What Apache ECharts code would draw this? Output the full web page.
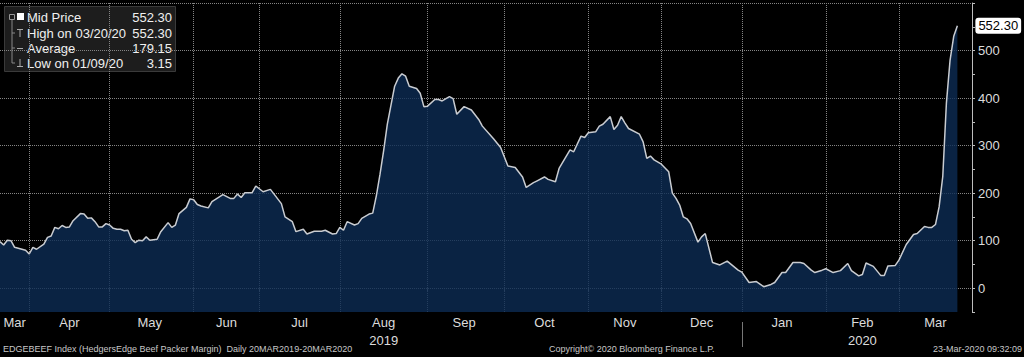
<!DOCTYPE html>
<html><head><meta charset="utf-8">
<script src="https://cdn.jsdelivr.net/npm/echarts@6/dist/echarts.min.js"></script>
<style>html,body{margin:0;padding:0;background:#000;}#c{width:1024px;height:357px;}</style>
</head><body><div id="c"></div>
<script>
// ---- data ----
const monthNames = ['Mar','Apr','May','Jun','Jul','Aug','Sep','Oct','Nov','Dec','Jan','Feb','Mar'];
const monthYears = [2019,2019,2019,2019,2019,2019,2019,2019,2019,2019,2020,2020,2020];
const monthSessions = [8,22,23,18,22,24,21,23,20,22,23,20,21];
const yearLabelMonths = [5, 11]; // year printed under Aug 2019 and Feb 2020
const yMin = -50, yMax = 600, yStep = 50, yGridStep = 100, yLabelMax = 500;
const legendLabels = ['Mid Price','High on 03/20/20','Average','Low on 01/09/20'];
const legendValues = ['552.30','552.30','179.15','3.15'];
const lastValue = 552.30;
const footerLeft = 'EDGEBEEF Index (HedgersEdge Beef Packer Margin)  Daily 20MAR2019-20MAR2020';
const footerMid = 'Copyright\u00a9 2020 Bloomberg Finance L.P.';
const footerRight = '23-Mar-2020 09:32:09';
// [session index, value]
const midPrice = [[0,98],[1,91],[2,101],[3,100],[4,86],[5,84],[6,82],[7,80],[8,72],[9,86],[10,82],[12,93],[13,107],[14,110],[15,128],[16,125],[17,132],[18,128],[19,129],[20,142],[22,157],[23,156],[24,147],[25,148],[26,140],[27,129],[28,129],[29,136],[30,133],[31,126],[32,124],[33,124],[34,121],[35,122],[36,103],[37,96],[38,101],[39,100],[40,108],[41,101],[43,103],[44,119],[46,138],[47,128],[48,133],[49,157],[51,170],[52,188],[53,186],[54,176],[55,173],[57,169],[58,182],[61,197],[63,189],[64,189],[65,198],[66,191],[67,201],[69,201],[70,215],[72,203],[74,208],[75,198],[77,178],[78,150],[80,140],[81,119],[83,124],[84,114],[86,120],[88,120],[89,122],[91,114],[92,115],[93,128],[94,122],[95,140],[97,133],[98,136],[99,147],[101,156],[102,158],[103,195],[104,240],[105,290],[106,345],[107,385],[108,425],[109,442],[110,451],[111,446],[112,425],[114,420],[115,410],[116,382],[117,383],[119,397],[120,397],[121,394],[123,403],[124,399],[125,366],[127,382],[129,375],[131,355],[132,341],[135,315],[137,296],[139,257],[141,254],[143,234],[144,212],[146,222],[147,226],[149,234],[150,229],[152,224],[153,252],[156,291],[157,287],[159,320],[160,317],[161,327],[163,329],[164,341],[165,345],[167,361],[168,334],[169,343],[170,361],[171,348],[172,336],[175,324],[176,308],[177,273],[178,278],[179,270],[181,261],[183,245],[184,200],[185,189],[186,175],[187,150],[188,146],[189,136],[191,97],[192,108],[193,115],[195,54],[197,49],[199,57],[202,38],[203,34],[205,12],[207,14],[209,3.15],[211,8],[212,12],[214,33],[215,33],[217,54],[219,54],[220,52],[222,38],[223,33],[225,38],[226,41],[228,33],[230,37],[232,52],[233,37],[235,26],[236,29],[237,53],[239,46],[241,27],[242,27],[243,47],[245,48],[246,59],[248,92],[250,113],[251,115],[253,130],[254,128],[255,128],[256,134],[257,171],[258,235],[259,390],[260,480],[261,530],[262,552.30]];

// ---- derived axis helpers ----
const categories = [];
const monthOfIdx = [];
const monthStart = [];
const monthMid = [];
monthNames.forEach((m, i) => {
  monthStart.push(categories.length);
  monthMid.push(categories.length + Math.floor(monthSessions[i] / 2));
  for (let k = 0; k < monthSessions[i]; k++) {
    categories.push(m + ' ' + monthYears[i] + ' #' + (k + 1));
    monthOfIdx.push(i);
  }
});
const startSet = new Set(monthStart.slice(1));
const midSet = new Set(monthMid);
const yearStartIdx = monthStart[monthYears.indexOf(2020)];
const yearLabelIdx = new Map(yearLabelMonths.map(m => [monthMid[m], String(monthYears[m])]));
// hidden category axis that mirrors the value axis, used only to place gridlines every 100
const yLevels = [];
for (let v = yMin; v <= yMax; v += yStep) yLevels.push(v);

const FONT = '"Liberation Sans", Arial, sans-serif';
const gridLineStyle = {type: 'dotted', color: '#858585', width: 1, opacity: 1};

const chart = echarts.init(document.getElementById('c'), null, {renderer: 'svg'});

const graphic = [];
// legend box
graphic.push({type: 'rect', left: 4, top: 6, shape: {width: 171, height: 65}, style: {fill: '#1d1d1d', stroke: '#3a3a3a', lineWidth: 1}, silent: true});
const rowY = [17, 33, 48, 63];
graphic.push({type: 'line', shape: {x1: 12, y1: 17, x2: 12, y2: 63}, style: {stroke: '#888', lineWidth: 1}});
graphic.push({type: 'rect', shape: {x: 9.5, y: 14.5, width: 5, height: 5}, style: {fill: '#1d1d1d', stroke: '#999', lineWidth: 1}});
rowY.forEach((y, i) => {
  if (i > 0) graphic.push({type: 'line', shape: {x1: 12, y1: y, x2: 15, y2: y}, style: {stroke: '#888', lineWidth: 1}});
  graphic.push({type: 'text', x: 27, y: y, style: {text: legendLabels[i], fill: '#f0f0f0', font: '13px ' + FONT, textVerticalAlign: 'middle'}});
  graphic.push({type: 'text', x: 172, y: y, style: {text: legendValues[i], fill: '#f0f0f0', font: '13px ' + FONT, textAlign: 'right', textVerticalAlign: 'middle'}});
});
graphic.push({type: 'rect', shape: {x: 17, y: 13, width: 7, height: 7}, style: {fill: '#ffffff'}});
graphic.push({type: 'line', shape: {x1: 17, y1: 29.5, x2: 23, y2: 29.5}, style: {stroke: '#aaa', lineWidth: 1}});
graphic.push({type: 'line', shape: {x1: 20, y1: 29.5, x2: 20, y2: 37}, style: {stroke: '#aaa', lineWidth: 1}});
graphic.push({type: 'line', shape: {x1: 17, y1: 48.5, x2: 23, y2: 48.5}, style: {stroke: '#aaa', lineWidth: 1}});
graphic.push({type: 'line', shape: {x1: 20, y1: 59, x2: 20, y2: 66.5}, style: {stroke: '#aaa', lineWidth: 1}});
graphic.push({type: 'line', shape: {x1: 17, y1: 66.5, x2: 23, y2: 66.5}, style: {stroke: '#aaa', lineWidth: 1}});
// footer
graphic.push({type: 'text', x: 3, y: 349, style: {text: footerLeft, fill: '#c8c8c8', font: '9px ' + FONT, textVerticalAlign: 'middle'}});
graphic.push({type: 'text', x: 549, y: 349, style: {text: footerMid, fill: '#c8c8c8', font: '9px ' + FONT, textVerticalAlign: 'middle'}});
graphic.push({type: 'text', x: 1022, y: 349, style: {text: footerRight, fill: '#c8c8c8', font: '9px ' + FONT, textAlign: 'right', textVerticalAlign: 'middle'}});

chart.setOption({
  backgroundColor: '#000',
  animation: false,
  textStyle: {fontFamily: FONT},
  grid: {left: 0, right: 52, top: 3, bottom: 45},
  xAxis: [{
    type: 'category', data: categories, boundaryGap: false,
    axisLine: {show: false},
    axisTick: {show: true, interval: (i) => startSet.has(i), length: 3, lineStyle: {color: '#888'}},
    axisLabel: {interval: (i) => midSet.has(i), formatter: (v, i) => monthNames[monthOfIdx[i]], color: '#dcdcdc', fontSize: 13, margin: 4},
    splitLine: {show: true, interval: (i) => startSet.has(i), lineStyle: gridLineStyle}
  }, {
    type: 'category', data: categories, boundaryGap: false, position: 'bottom', offset: 10,
    axisLine: {show: false},
    axisTick: {show: true, interval: (i) => i === yearStartIdx, length: 25, lineStyle: {color: '#777'}},
    axisLabel: {interval: (i) => yearLabelIdx.has(i), formatter: (v, i) => yearLabelIdx.get(i) || '', color: '#dcdcdc', fontSize: 13, margin: 12},
    splitLine: {show: false}
  }],
  yAxis: [{
    type: 'value', position: 'right', min: yMin, max: yMax, interval: yStep,
    axisLine: {show: true, lineStyle: {color: '#bdbdbd'}},
    axisTick: {show: true, length: 3, lineStyle: {color: '#bdbdbd'}},
    axisLabel: {formatter: (v) => (v >= 0 && v <= yLabelMax && v % yGridStep === 0) ? String(v) : '', color: '#dcdcdc', fontSize: 13, margin: 6},
    splitLine: {show: false}
  }, {
    type: 'category', data: yLevels.map(String), boundaryGap: false, position: 'left',
    axisLine: {show: false}, axisTick: {show: false}, axisLabel: {show: false},
    splitLine: {show: true, interval: (i) => yLevels[i] >= 0 && yLevels[i] % yGridStep === 0, lineStyle: gridLineStyle}
  }],
  series: [{
    type: 'line', name: 'Mid Price', data: midPrice, xAxisIndex: 0, yAxisIndex: 0,
    symbol: 'none', smooth: false,
    lineStyle: {color: '#c9ccd1', width: 1.5},
    areaStyle: {color: 'rgba(13,44,84,0.8)', opacity: 1, origin: 'start'},
    endLabel: {show: true, formatter: lastValue.toFixed(2), backgroundColor: '#ffffff', color: '#000',
               borderRadius: 3, padding: [2, 3, 1, 3], fontSize: 13, fontFamily: FONT, distance: 18}
  }],
  graphic: graphic
});
</script></body></html>
